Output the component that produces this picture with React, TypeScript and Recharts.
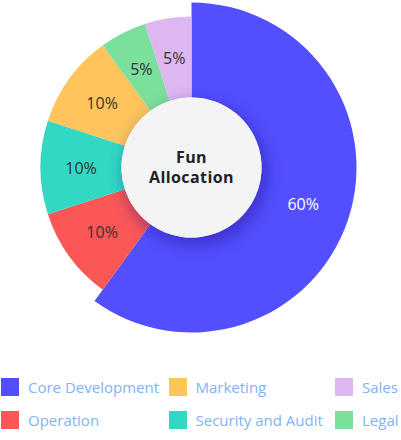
import React from 'react';
import { PieChart, Pie, Cell } from 'recharts';

const categories = ['Core Development', 'Operation', 'Security and Audit', 'Marketing', 'Legal', 'Sales'];
const values = [60, 10, 10, 10, 5, 5];
const colors = ['#544ffe', '#fb5757', '#33d8c5', '#ffc45c', '#7be09b', '#deb6f0'];
const legendOrder = ['Core Development', 'Marketing', 'Sales', 'Operation', 'Security and Audit', 'Legal'];
const centerLines = ['Fun', 'Allocation'];

const data = categories.map((name, i) => ({ name, value: values[i], color: colors[i] }));
const centerData = [{ name: 'center', value: 1 }];

const FONT = '"Open Sans", "DejaVu Sans", sans-serif';
const RAD = Math.PI / 180;

const makeLabel = (mainOnly: boolean) => (props: any) => {
  const { cx, cy, midAngle, innerRadius, outerRadius, index, value } = props;
  const isMain = index === 0;
  if (isMain !== mainOnly) return null;
  const r = (innerRadius + outerRadius) / 2;
  const x = cx + r * Math.cos(-midAngle * RAD);
  const y = cy + r * Math.sin(-midAngle * RAD);
  return (
    <text
      x={x}
      y={y}
      textAnchor="middle"
      dominantBaseline="central"
      fill={isMain ? '#ffffff' : '#333333'}
      fontFamily={FONT}
      fontSize={16}
    >
      {`${value}%`}
    </text>
  );
};

const centerLabel = (props: any) => {
  const { cx, cy } = props;
  return (
    <g>
      <text x={cx} y={cy - 4.5} textAnchor="middle" fontFamily={FONT} fontWeight={700} fontSize={16} fill="#222" letterSpacing={0.4}>
        {centerLines[0]}
      </text>
      <text x={cx} y={cy + 15.5} textAnchor="middle" fontFamily={FONT} fontWeight={700} fontSize={16} fill="#222" letterSpacing={0.4}>
        {centerLines[1]}
      </text>
    </g>
  );
};

export default function App() {
  const cx = 191.5;
  const cy = 167.5;
  return (
    <div style={{ position: 'absolute', left: 0, top: 0, width: 401, height: 440, background: '#fff' }}>
      <PieChart width={401} height={345} margin={{ top: 0, right: 0, bottom: 0, left: 0 }}>
        <defs>
          <filter id="centerShadow" x="-50%" y="-50%" width="200%" height="200%">
            <feDropShadow dx="4" dy="6" stdDeviation="9" floodColor="#1a0f80" floodOpacity="0.45" />
          </filter>
        </defs>
        <Pie
          data={data}
          dataKey="value"
          cx={cx}
          cy={cy}
          startAngle={90}
          endAngle={-270}
          innerRadius={70}
          outerRadius={165}
          stroke="none"
          isAnimationActive={false}
          label={makeLabel(true)}
          labelLine={false}
        >
          {data.map((d, i) => (
            <Cell key={d.name} fill={i === 0 ? d.color : 'transparent'} />
          ))}
        </Pie>
        <Pie
          data={data}
          dataKey="value"
          cx={cx}
          cy={cy}
          startAngle={90}
          endAngle={-270}
          innerRadius={70}
          outerRadius={151}
          stroke="none"
          isAnimationActive={false}
          label={makeLabel(false)}
          labelLine={false}
        >
          {data.map((d, i) => (
            <Cell key={d.name} fill={i === 0 ? 'transparent' : d.color} />
          ))}
        </Pie>
        <Pie
          data={centerData}
          dataKey="value"
          cx={cx}
          cy={cy}
          innerRadius={0}
          outerRadius={70}
          stroke="none"
          isAnimationActive={false}
          label={centerLabel}
          labelLine={false}
        >
          <Cell fill="#f4f4f4" style={{ filter: 'url(#centerShadow)' }} />
        </Pie>
      </PieChart>
      {legendOrder.map((name, k) => {
        const d = data.find((e) => e.name === name)!;
        const col = k % 3;
        const row = Math.floor(k / 3);
        const left = [1, 168.5, 335][col];
        const top = 378 + row * 33;
        return (
          <div key={name} style={{ position: 'absolute', left, top, height: 18, display: 'flex', alignItems: 'center', whiteSpace: 'nowrap' }}>
            <div style={{ width: 18, height: 18, background: d.color, marginRight: 9 }} />
            <span style={{ fontFamily: FONT, fontSize: 15, color: '#80b3f7', lineHeight: '18px' }}>{name}</span>
          </div>
        );
      })}
    </div>
  );
}
